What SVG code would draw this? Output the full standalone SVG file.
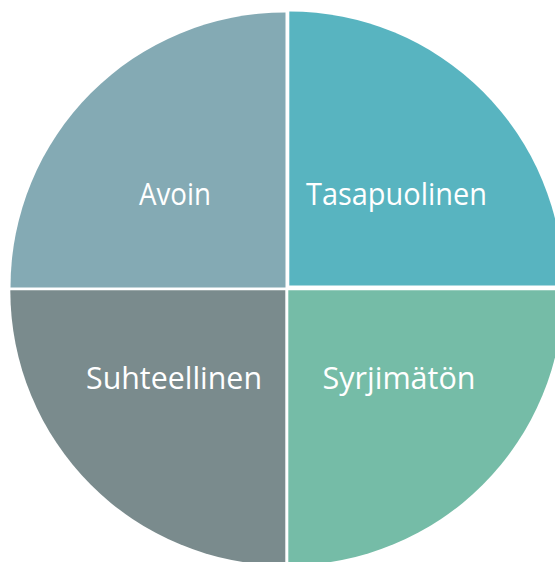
<svg xmlns="http://www.w3.org/2000/svg" width="555" height="562" viewBox="0 0 555 562">
<style>
.lbl{font-family:"Open Sans","DejaVu Sans",sans-serif;font-size:31px;fill:#ffffff}
</style>
<rect width="555" height="562" fill="#ffffff"/>
<g id="avoin">
<path d="M285.5,287.5 L10.5,287.5 A275,275 0 0 1 285.5,12.5 Z" fill="#84aab4"/>
<text class="lbl" x="139" y="205" textLength="72" lengthAdjust="spacingAndGlyphs">Avoin</text>
</g>
<g id="tasapuolinen">
<path d="M289.3,285.5 L289.3,11.5 A274,274 0 0 1 563.3,285.5 Z" fill="#58b4c0"/>
<text class="lbl" x="306" y="205" textLength="181" lengthAdjust="spacingAndGlyphs">Tasapuolinen</text>
</g>
<g id="suhteellinen">
<path d="M285.3,290.3 L285.3,565.3 A275,275 0 0 1 10.3,290.3 Z" fill="#7a8b8d"/>
<text class="lbl" x="86" y="388.5" textLength="176" lengthAdjust="spacingAndGlyphs">Suhteellinen</text>
</g>
<g id="syrjimaton">
<path d="M288.3,290.3 L563.3,290.3 A275,275 0 0 1 288.3,565.3 Z" fill="#75bca7"/>
<text class="lbl" x="322.5" y="388.5" textLength="153" lengthAdjust="spacingAndGlyphs">Syrjimätön</text>
</g>
<g id="connectors"></g>
</svg>
